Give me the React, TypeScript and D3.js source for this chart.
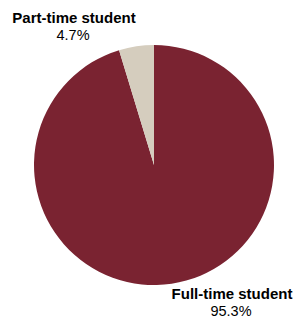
import React from "react";
import * as d3 from "d3";

const categories = ["Full-time student", "Part-time student"];
const shares = [95.3, 4.7];
const colors = ["#7a2331", "#d5cdbe"];

// label anchor spots (centre x, baseline y of the name line)
const labelSpots: [number, number][] = [
  [232, 299],
  [74, 23],
];

export default function App() {
  const width = 296;
  const height = 318;
  const cx = 154;
  const cy = 165;
  const radius = 120;

  const data = categories.map((c, i) => ({ name: c, value: shares[i], color: colors[i] }));
  const pie = d3.pie<any>().sort(null).value((d) => d.value);
  const arc = d3.arc<any>().innerRadius(0).outerRadius(radius);
  const arcs = pie(data);
  const fmt = d3.format(".1f");

  return (
    <svg
      width={width}
      height={height}
      style={{ position: "absolute", left: 0, top: 0, background: "#fff" }}
      fontFamily="Liberation Sans, Arial, sans-serif"
    >
      <g transform={`translate(${cx},${cy})`}>
        {arcs.map((a, i) => (
          <path key={i} d={arc(a) as string} fill={a.data.color} />
        ))}
      </g>
      {data.map((d, i) => (
        <g key={d.name} textAnchor="middle" fill="#000">
          <text x={labelSpots[i][0]} y={labelSpots[i][1]} fontSize={15} fontWeight="bold">
            {d.name}
          </text>
          <text x={labelSpots[i][0] - 1} y={labelSpots[i][1] + 17} fontSize={14.5}>
            {fmt(d.value)}%
          </text>
        </g>
      ))}
    </svg>
  );
}
